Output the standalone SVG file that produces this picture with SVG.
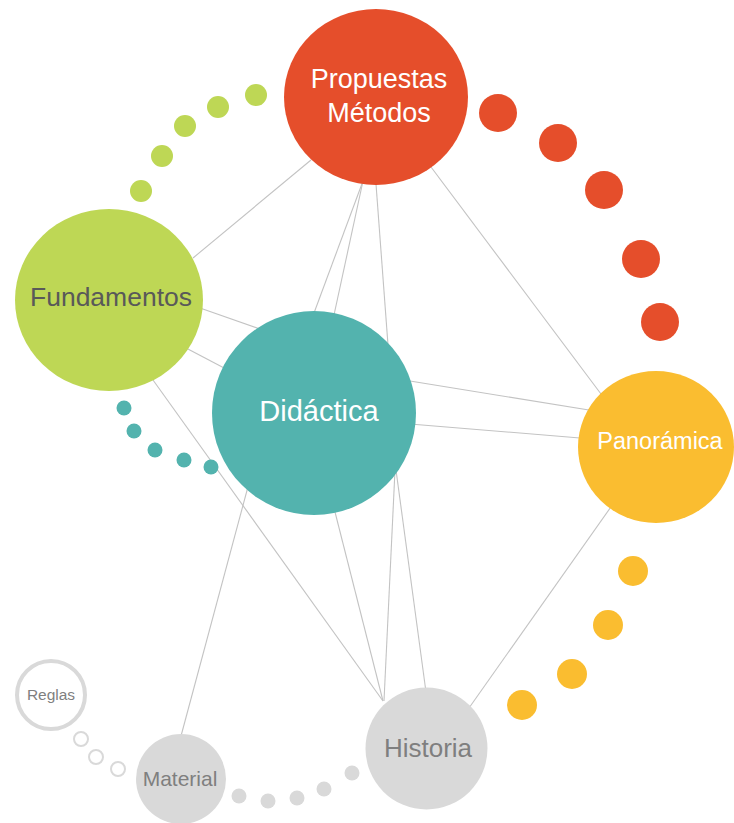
<svg xmlns="http://www.w3.org/2000/svg" width="734" height="823" viewBox="0 0 734 823">
  <style>
    .link { stroke: #c3c3c3; stroke-width: 1.1; fill: none; }
    .lbl { font-family: "Liberation Sans", Arial, sans-serif; text-anchor: middle; }
    .white { fill: #ffffff; }
    .dark { fill: #595959; }
    .grey { fill: #7f7f7f; }
    .red { fill: #e54e2b; }
    .green { fill: #bed755; }
    .teal { fill: #53b3ae; }
    .yellow { fill: #fabd30; }
    .light { fill: #d9d9d9; }
    .ring { fill: #ffffff; stroke: #d9d9d9; }
  </style>

  <!-- connectors -->
  <g id="connectors">
    <line class="link" x1="311" y1="160" x2="193" y2="258"/>
    <line class="link" x1="363" y1="181" x2="314" y2="313"/>
    <line class="link" x1="363" y1="181" x2="334" y2="315"/>
    <line class="link" x1="376" y1="184" x2="388" y2="345"/>
    <line class="link" x1="428" y1="163" x2="601" y2="394"/>
    <line class="link" x1="200" y1="308" x2="260" y2="329"/>
    <line class="link" x1="186" y1="348" x2="226" y2="369"/>
    <line class="link" x1="153" y1="380" x2="383" y2="701"/>
    <line class="link" x1="410" y1="381" x2="595" y2="411"/>
    <line class="link" x1="410" y1="424" x2="580" y2="438"/>
    <line class="link" x1="613" y1="504" x2="469" y2="708"/>
    <line class="link" x1="249" y1="483" x2="181" y2="736"/>
    <line class="link" x1="334" y1="508" x2="383" y2="701"/>
    <line class="link" x1="395" y1="470" x2="384" y2="701"/>
    <line class="link" x1="396" y1="470" x2="426" y2="692"/>
  </g>

  <!-- dotted arcs -->
  <g id="dots-green">
    <circle class="green" cx="141" cy="191" r="11"/>
    <circle class="green" cx="162" cy="156" r="11"/>
    <circle class="green" cx="185" cy="126" r="11"/>
    <circle class="green" cx="218" cy="107" r="11"/>
    <circle class="green" cx="256" cy="95" r="11"/>
  </g>
  <g id="dots-red">
    <circle class="red" cx="498" cy="113" r="19"/>
    <circle class="red" cx="558" cy="143" r="19"/>
    <circle class="red" cx="604" cy="190" r="19"/>
    <circle class="red" cx="641" cy="259" r="19"/>
    <circle class="red" cx="660" cy="322" r="19"/>
  </g>
  <g id="dots-teal">
    <circle class="teal" cx="124" cy="408" r="7.5"/>
    <circle class="teal" cx="134" cy="431" r="7.5"/>
    <circle class="teal" cx="155" cy="450" r="7.5"/>
    <circle class="teal" cx="184" cy="460" r="7.5"/>
    <circle class="teal" cx="211" cy="467" r="7.5"/>
  </g>
  <g id="dots-yellow">
    <circle class="yellow" cx="633" cy="571" r="15"/>
    <circle class="yellow" cx="608" cy="625" r="15"/>
    <circle class="yellow" cx="572" cy="674" r="15"/>
    <circle class="yellow" cx="522" cy="705" r="15"/>
  </g>
  <g id="dots-grey">
    <circle class="light" cx="239" cy="796" r="7.5"/>
    <circle class="light" cx="268" cy="801" r="7.5"/>
    <circle class="light" cx="297" cy="798" r="7.5"/>
    <circle class="light" cx="324" cy="789" r="7.5"/>
    <circle class="light" cx="352" cy="773" r="7.5"/>
  </g>
  <g id="dots-rings">
    <circle class="ring" cx="81" cy="739" r="7" stroke-width="2"/>
    <circle class="ring" cx="96" cy="757" r="7" stroke-width="2"/>
    <circle class="ring" cx="118" cy="769" r="7" stroke-width="2"/>
  </g>

  <!-- nodes -->
  <g id="node-propuestas">
    <ellipse class="red" cx="376" cy="97" rx="92" ry="88"/>
    <text class="lbl white" x="379" y="88" font-size="27">Propuestas</text>
    <text class="lbl white" x="379" y="122" font-size="27">Métodos</text>
  </g>
  <g id="node-fundamentos">
    <ellipse class="green" cx="109" cy="300" rx="94" ry="91"/>
    <text class="lbl dark" x="111" y="306" font-size="26.5">Fundamentos</text>
  </g>
  <g id="node-didactica">
    <circle class="teal" cx="314" cy="413" r="102"/>
    <text class="lbl white" x="319" y="421" font-size="29">Didáctica</text>
  </g>
  <g id="node-panoramica">
    <ellipse class="yellow" cx="656" cy="447" rx="78" ry="76"/>
    <text class="lbl white" x="660" y="449" font-size="23.5">Panorámica</text>
  </g>
  <g id="node-historia">
    <circle class="light" cx="426.5" cy="748.5" r="61"/>
    <text class="lbl grey" x="428" y="757" font-size="26">Historia</text>
  </g>
  <g id="node-material">
    <circle class="light" cx="181" cy="779" r="45"/>
    <text class="lbl grey" x="180" y="786" font-size="21">Material</text>
  </g>
  <g id="node-reglas">
    <circle class="ring" cx="51" cy="695" r="34" stroke-width="4"/>
    <text class="lbl grey" x="51" y="700" font-size="15.5">Reglas</text>
  </g>
</svg>
